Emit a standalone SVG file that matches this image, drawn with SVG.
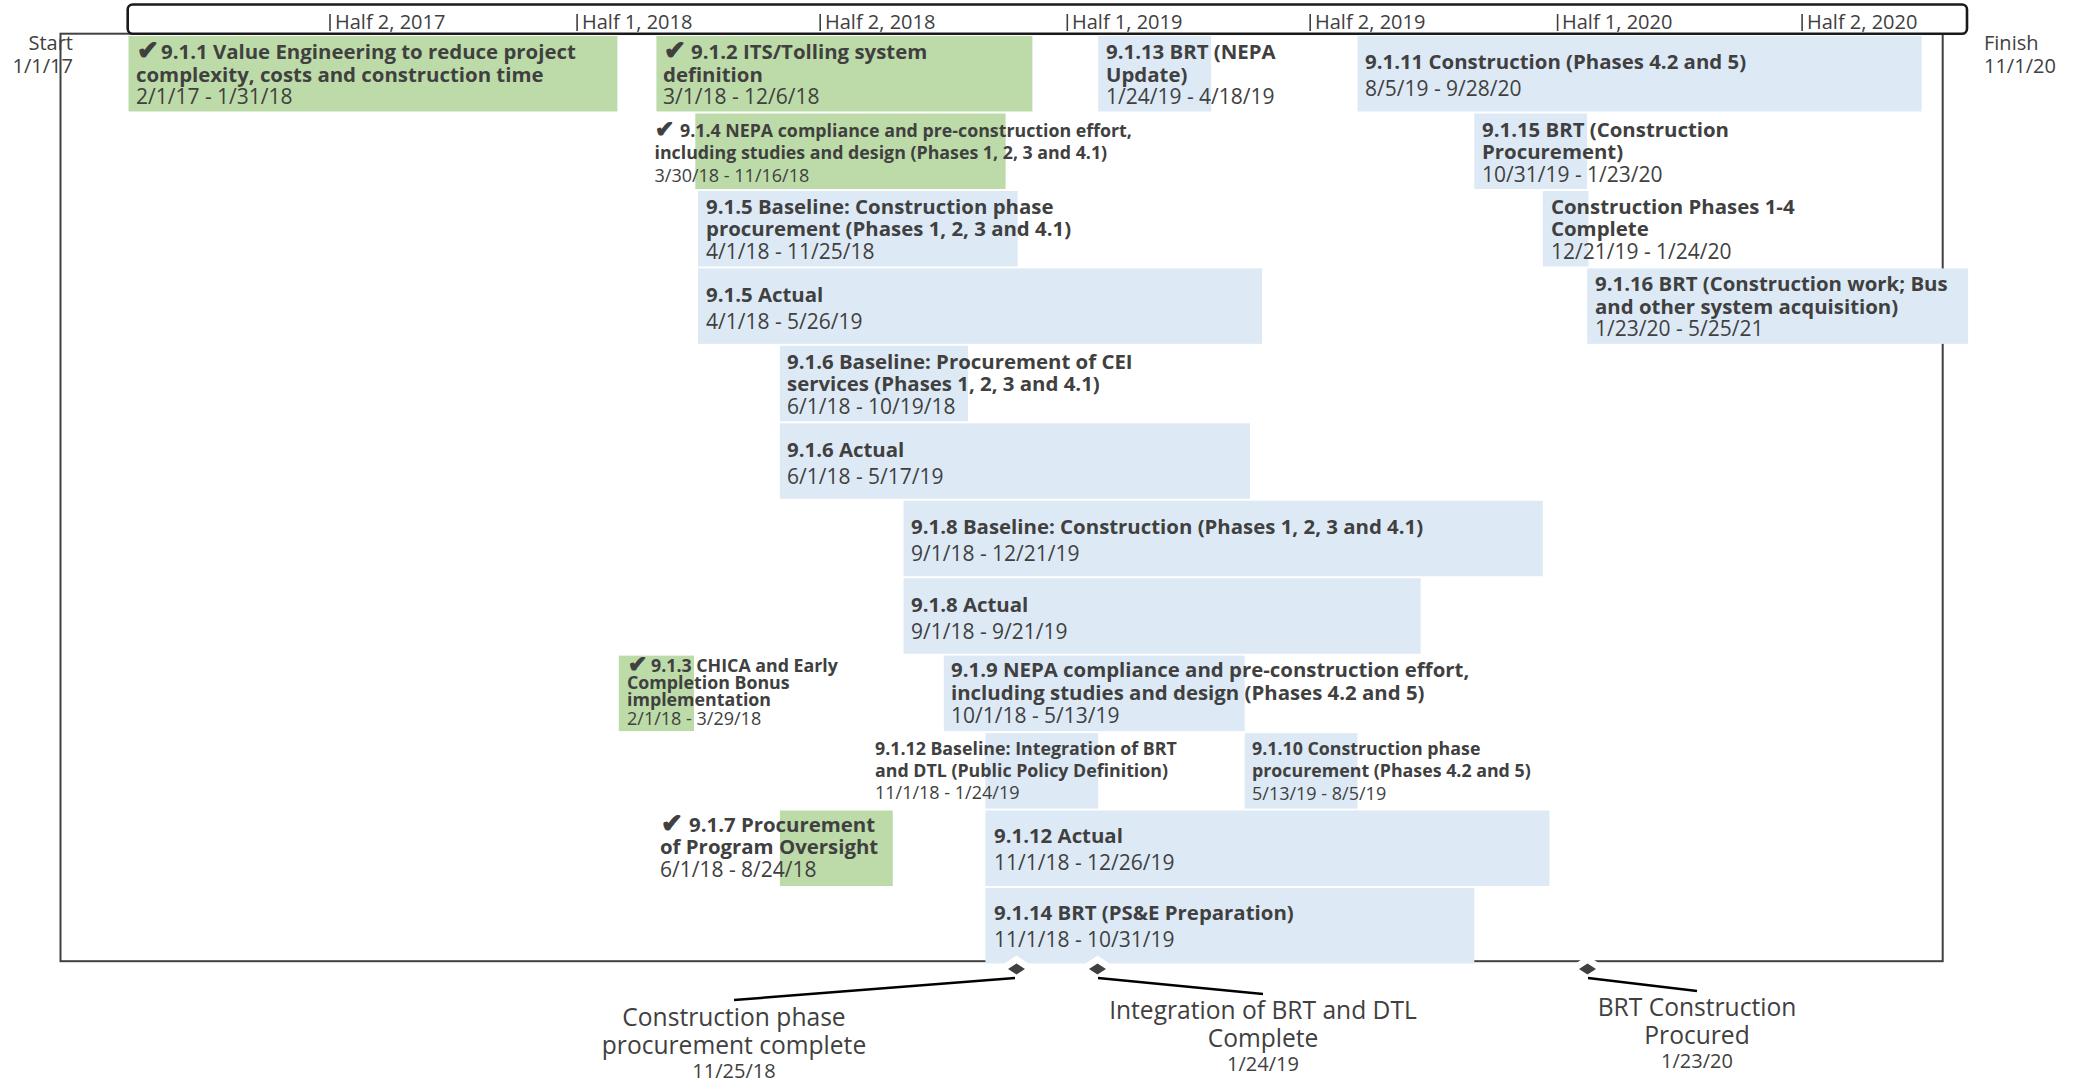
<svg xmlns="http://www.w3.org/2000/svg" width="2074" height="1084" viewBox="0 0 2074 1084">
<defs>
<style>
text{font-family:"Open Sans","Noto Sans","Liberation Sans",sans-serif;fill:#404040}
.g{fill:#BDDBA8}
.b{fill:#DDEAF6}
.t{font-size:20.4px;font-weight:bold}
.d{font-size:21px}
.ts{font-size:17.8px;font-weight:bold}
.ds{font-size:18px}
.ck{font-family:"DejaVu Sans",sans-serif;font-weight:bold;font-size:26px;stroke:#404040;stroke-width:1.3px}
.cks{font-family:"DejaVu Sans",sans-serif;font-weight:bold;font-size:23px;stroke:#404040;stroke-width:1.2px}
.ax{font-size:20px}
.ml{font-size:24.6px;text-anchor:middle}
.md{font-size:20px;text-anchor:middle}
.tick{stroke:#404040;stroke-width:1.6}
.lead{stroke:#000;stroke-width:2.5;fill:none}
.halo{fill:#fff}
.dia{fill:#404040}
</style>
</defs>
<rect width="2074" height="1084" fill="#fff"/>

<g id="frame">
<rect x="60.5" y="33.7" width="1882.2" height="927.5" fill="none" stroke="#404040" stroke-width="2"/>
<text class="ax" x="73" y="50" text-anchor="end">Start</text>
<text class="ax" x="73" y="73" text-anchor="end">1/1/17</text>
<text class="ax" x="1984" y="50">Finish</text>
<text class="ax" x="1984" y="73">11/1/20</text>
</g>

<g id="timescale">
<rect x="127.7" y="4.5" width="1839.3" height="29.2" rx="5" fill="#fff" stroke="#1a1a1a" stroke-width="2.6"/>
<line class="tick" x1="330" y1="14" x2="330" y2="31"/><text class="ax" x="335" y="28.5">Half 2, 2017</text>
<line class="tick" x1="577.1" y1="14" x2="577.1" y2="31"/><text class="ax" x="582" y="28.5">Half 1, 2018</text>
<line class="tick" x1="820.2" y1="14" x2="820.2" y2="31"/><text class="ax" x="825" y="28.5">Half 2, 2018</text>
<line class="tick" x1="1067.3" y1="14" x2="1067.3" y2="31"/><text class="ax" x="1072" y="28.5">Half 1, 2019</text>
<line class="tick" x1="1310.2" y1="14" x2="1310.2" y2="31"/><text class="ax" x="1315" y="28.5">Half 2, 2019</text>
<line class="tick" x1="1557.6" y1="14" x2="1557.6" y2="31"/><text class="ax" x="1562" y="28.5">Half 1, 2020</text>
<line class="tick" x1="1802.1" y1="14" x2="1802.1" y2="31"/><text class="ax" x="1807" y="28.5">Half 2, 2020</text>
</g>

<g id="t911">
<rect class="g" x="128.5" y="36" width="488.9" height="75.5"/>
<text class="t" x="137" y="59"><tspan class="ck">✔</tspan><tspan x="161">9.1.1 Value Engineering to reduce project</tspan></text>
<text class="t" x="136" y="81.5">complexity, costs and construction time</text>
<text class="d" x="136" y="104">2/1/17 - 1/31/18</text>
</g>

<g id="t912">
<rect class="g" x="656.4" y="36" width="376" height="75.5"/>
<text class="t" x="664" y="59"><tspan class="ck">✔</tspan><tspan x="691">9.1.2 ITS/Tolling system</tspan></text>
<text class="t" x="663" y="81.5">definition</text>
<text class="d" x="663" y="104">3/1/18 - 12/6/18</text>
</g>

<g id="t9113">
<rect class="b" x="1098.2" y="36" width="112.9" height="75.5"/>
<text class="t" x="1106" y="59">9.1.13 BRT (NEPA</text>
<text class="t" x="1106" y="81.5">Update)</text>
<text class="d" x="1106" y="104">1/24/19 - 4/18/19</text>
</g>

<g id="t9111">
<rect class="b" x="1357.5" y="36" width="564.1" height="75.5"/>
<text class="t" x="1365" y="69">9.1.11 Construction (Phases 4.2 and 5)</text>
<text class="d" x="1365" y="96">8/5/19 - 9/28/20</text>
</g>

<g id="t914">
<rect class="g" x="695.3" y="113.5" width="310.3" height="75.5"/>
<text class="ts" x="655" y="137"><tspan class="cks">✔</tspan><tspan x="680">9.1.4 NEPA compliance and pre-construction effort,</tspan></text>
<text class="ts" x="654.5" y="159">including studies and design (Phases 1, 2, 3 and 4.1)</text>
<text class="ds" x="654.5" y="181.5">3/30/18 - 11/16/18</text>
</g>

<g id="t9115">
<rect class="b" x="1474.3" y="113.5" width="112.8" height="75.5"/>
<text class="t" x="1482" y="136.5">9.1.15 BRT (Construction</text>
<text class="t" x="1482" y="159">Procurement)</text>
<text class="d" x="1482" y="181.5">10/31/19 - 1/23/20</text>
</g>

<g id="t915b">
<rect class="b" x="698" y="191" width="319.7" height="75.5"/>
<text class="t" x="706" y="213.5">9.1.5 Baseline: Construction phase</text>
<text class="t" x="706" y="236">procurement (Phases 1, 2, 3 and 4.1)</text>
<text class="d" x="706" y="258.5">4/1/18 - 11/25/18</text>
</g>

<g id="tc14">
<rect class="b" x="1542.8" y="191" width="45.7" height="75.5"/>
<text class="t" x="1551" y="213.5">Construction Phases 1-4</text>
<text class="t" x="1551" y="236">Complete</text>
<text class="d" x="1551" y="258.5">12/21/19 - 1/24/20</text>
</g>

<g id="t915a">
<rect class="b" x="698" y="268.4" width="564.1" height="75.5"/>
<text class="t" x="706" y="301.5">9.1.5 Actual</text>
<text class="d" x="706" y="328.5">4/1/18 - 5/26/19</text>
</g>

<g id="t9116">
<rect class="b" x="1587.1" y="268.4" width="381" height="75.5"/>
<text class="t" x="1595" y="291">9.1.16 BRT (Construction work; Bus</text>
<text class="t" x="1595" y="313.5">and other system acquisition)</text>
<text class="d" x="1595" y="336">1/23/20 - 5/25/21</text>
</g>

<g id="t916b">
<rect class="b" x="779.9" y="345.8" width="188.1" height="75.5"/>
<text class="t" x="787" y="368.5">9.1.6 Baseline: Procurement of CEI</text>
<text class="t" x="787" y="391">services (Phases 1, 2, 3 and 4.1)</text>
<text class="d" x="787" y="413.5">6/1/18 - 10/19/18</text>
</g>

<g id="t916a">
<rect class="b" x="779.9" y="423.3" width="470.1" height="75.5"/>
<text class="t" x="787" y="456.5">9.1.6 Actual</text>
<text class="d" x="787" y="484">6/1/18 - 5/17/19</text>
</g>

<g id="t918b">
<rect class="b" x="903.5" y="500.7" width="639.3" height="75.5"/>
<text class="t" x="911" y="534">9.1.8 Baseline: Construction (Phases 1, 2, 3 and 4.1)</text>
<text class="d" x="911" y="561">9/1/18 - 12/21/19</text>
</g>

<g id="t918a">
<rect class="b" x="903.5" y="578.2" width="517.1" height="75.5"/>
<text class="t" x="911" y="611.5">9.1.8 Actual</text>
<text class="d" x="911" y="638.5">9/1/18 - 9/21/19</text>
</g>

<g id="t913">
<rect class="g" x="618.8" y="655.6" width="75.2" height="75.5"/>
<text class="ts" x="628" y="672"><tspan class="cks">✔</tspan><tspan x="651">9.1.3 CHICA and Early</tspan></text>
<text class="ts" x="627" y="689">Completion Bonus</text>
<text class="ts" x="627" y="706">implementation</text>
<text class="ds" x="627" y="725">2/1/18 - 3/29/18</text>
</g>

<g id="t919">
<rect class="b" x="943.8" y="655.6" width="300.9" height="75.5"/>
<text class="t" x="951" y="676.5">9.1.9 NEPA compliance and pre-construction effort,</text>
<text class="t" x="951" y="699.5">including studies and design (Phases 4.2 and 5)</text>
<text class="d" x="951" y="723">10/1/18 - 5/13/19</text>
</g>

<g id="t9112b">
<rect class="b" x="985.4" y="733.1" width="112.8" height="75.5"/>
<text class="ts" x="875" y="755">9.1.12 Baseline: Integration of BRT</text>
<text class="ts" x="875" y="776.5">and DTL (Public Policy Definition)</text>
<text class="ds" x="875" y="799">11/1/18 - 1/24/19</text>
</g>

<g id="t9110">
<rect class="b" x="1244.7" y="733.1" width="112.8" height="75.5"/>
<text class="ts" x="1252" y="755">9.1.10 Construction phase</text>
<text class="ts" x="1252" y="776.5">procurement (Phases 4.2 and 5)</text>
<text class="ds" x="1252" y="799.5">5/13/19 - 8/5/19</text>
</g>

<g id="t917">
<rect class="g" x="779.9" y="810.5" width="112.9" height="75.5"/>
<text class="t" x="661" y="832"><tspan class="ck">✔</tspan><tspan x="689">9.1.7 Procurement</tspan></text>
<text class="t" x="660" y="853.5">of Program Oversight</text>
<text class="d" x="660" y="877">6/1/18 - 8/24/18</text>
</g>

<g id="t9112a">
<rect class="b" x="985.4" y="810.5" width="564.1" height="75.5"/>
<text class="t" x="994" y="842.5">9.1.12 Actual</text>
<text class="d" x="994" y="869.5">11/1/18 - 12/26/19</text>
</g>

<g id="t9114">
<rect class="b" x="985.4" y="888" width="488.9" height="75.5"/>
<text class="t" x="994" y="920">9.1.14 BRT (PS&amp;E Preparation)</text>
<text class="d" x="994" y="947">11/1/18 - 10/31/19</text>
</g>

<g id="connectors">
<polygon class="halo" points="1016.5,955.5 1036.5,969 1016.5,982.5 996.5,969"/>
<polygon class="halo" points="1097.5,955.5 1117.5,969 1097.5,982.5 1077.5,969"/>
<polygon class="halo" points="1587.5,955.5 1607.5,969 1587.5,982.5 1567.5,969"/>
<line class="lead" x1="1015" y1="978" x2="734" y2="1000"/>
<line class="lead" x1="1098" y1="978" x2="1263" y2="994"/>
<line class="lead" x1="1588" y1="978" x2="1697" y2="991"/>
</g>

<g id="m1">
<polygon class="dia" points="1016.5,963.5 1025,969 1016.5,974.5 1008,969"/>
<text class="ml" x="734" y="1026">Construction phase</text>
<text class="ml" x="734" y="1054">procurement complete</text>
<text class="md" x="734" y="1078">11/25/18</text>
</g>

<g id="m2">
<polygon class="dia" points="1097.5,963.5 1106,969 1097.5,974.5 1089,969"/>
<text class="ml" x="1263" y="1019">Integration of BRT and DTL</text>
<text class="ml" x="1263" y="1047">Complete</text>
<text class="md" x="1263" y="1071">1/24/19</text>
</g>

<g id="m3">
<polygon class="dia" points="1587.5,963.5 1596,969 1587.5,974.5 1579,969"/>
<text class="ml" x="1697" y="1016">BRT Construction</text>
<text class="ml" x="1697" y="1044">Procured</text>
<text class="md" x="1697" y="1068">1/23/20</text>
</g>
</svg>
